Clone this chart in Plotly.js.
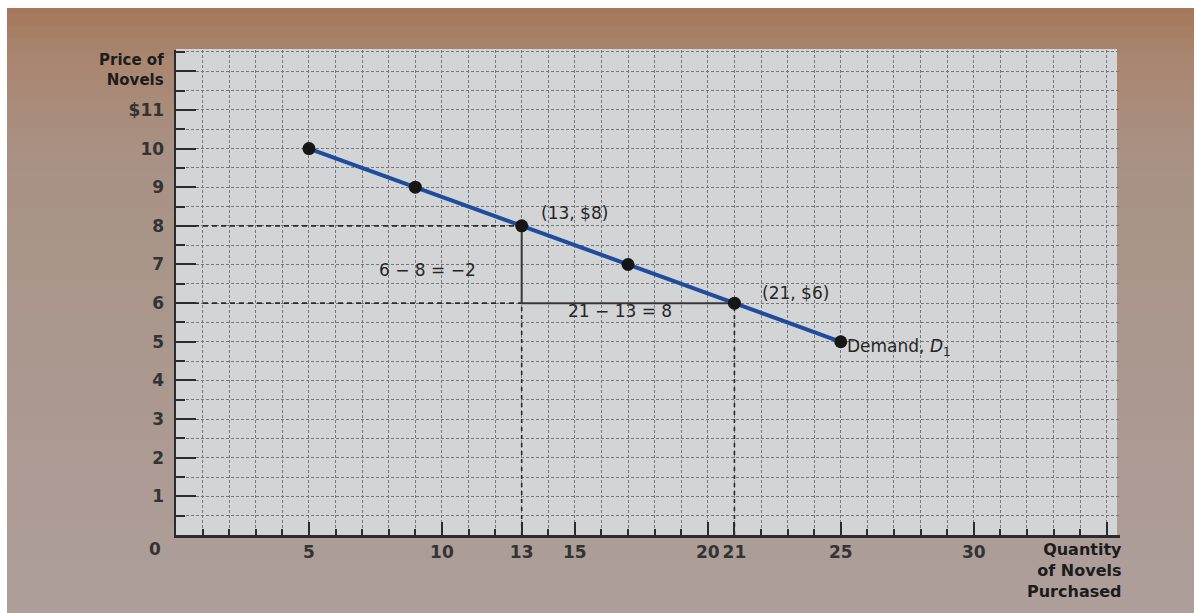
<!DOCTYPE html>
<html>
<head>
<meta charset="utf-8">
<script src="https://cdn.plot.ly/plotly-3.0.1.min.js"></script>
<style>html,body{margin:0;padding:0;background:#fff;}#chart{width:1194px;height:613px;}</style>
</head>
<body>
<div id="chart"></div>
<script>
// Demand schedule for novels
const quantities = [5, 9, 13, 17, 21, 25];
const prices = [10, 9, 8, 7, 6, 5];

// x tick labels
const xTickVals = [0, 5, 10, 13, 15, 20, 21, 25, 30, 35];
const xTickText = ['', '5', '10', '13', '15', '20', '21', '25', '30', ''];
// y tick labels
const yTickVals = [0, 1, 2, 3, 4, 5, 6, 7, 8, 9, 10, 11, 12];
const yTickText = ['', '1', '2', '3', '4', '5', '6', '7', '8', '9', '10', '$11', ''];

// the two highlighted points
const pointA = [13, 8];
const pointB = [21, 6];

const ink = '#2b2b2b';
const lineBlue = '#1f4c9c';

const traces = [
  {x: [0, pointA[0]], y: [pointA[1], pointA[1]], mode: 'lines', line: {color: ink, width: 1.6, dash: '5px,4px'}, hoverinfo: 'skip'},
  {x: [0, pointA[0]], y: [pointB[1], pointB[1]], mode: 'lines', line: {color: ink, width: 1.6, dash: '5px,4px'}, hoverinfo: 'skip'},
  {x: [pointA[0], pointA[0]], y: [0, pointB[1]], mode: 'lines', line: {color: ink, width: 1.6, dash: '4px,4px'}, hoverinfo: 'skip'},
  {x: [pointB[0], pointB[0]], y: [0, pointB[1]], mode: 'lines', line: {color: ink, width: 1.6, dash: '4px,4px'}, hoverinfo: 'skip'},
  {x: [pointA[0], pointA[0], pointB[0]], y: [pointA[1], pointB[1], pointB[1]], mode: 'lines', line: {color: '#3a3636', width: 2}, hoverinfo: 'skip'},
  {x: quantities, y: prices, mode: 'lines+markers', line: {color: lineBlue, width: 4},
   marker: {color: '#161616', size: 13}, hoverinfo: 'skip'}
];

function px2paperX(p) { return (p - 176) / 944; }
function px2paperY(q) { return (535 - q) / 485; }

// smooth photo-frame background (decoration)
function hex(c) { return [parseInt(c.slice(1,3),16), parseInt(c.slice(3,5),16), parseInt(c.slice(5,7),16)]; }
const stops = [[8, '#a4785a'], [60, '#a98670'], [160, '#a99285'], [330, '#aa978d'], [613, '#ae9f9b']];
const shapes = [];
for (let q = 8; q < 613; q += 6) {
  const mid = q + 3;
  let i = 0;
  while (i < stops.length - 2 && mid > stops[i + 1][0]) i++;
  const t = Math.min(1, Math.max(0, (mid - stops[i][0]) / (stops[i + 1][0] - stops[i][0])));
  const a = hex(stops[i][1]), b = hex(stops[i + 1][1]);
  const c = a.map((v, k) => Math.round(v + (b[k] - v) * t));
  shapes.push({
    type: 'rect', xref: 'paper', yref: 'paper', layer: 'below',
    x0: px2paperX(7), x1: px2paperX(1194), y0: px2paperY(Math.min(613, q + 6)), y1: px2paperY(q),
    fillcolor: 'rgb(' + c.join(',') + ')', line: {width: 0}
  });
}
shapes.push({
  type: 'rect', xref: 'paper', yref: 'paper', layer: 'below',
  x0: 0, x1: px2paperX(1117), y0: 0, y1: px2paperY(49),
  fillcolor: '#d2d4d6', line: {width: 0}
});

const tickFont = {family: 'DejaVu Sans', size: 17, color: '#333', weight: 'bold'};
const annFont = {family: 'DejaVu Sans', size: 17, color: '#262626'};
const boldFont = {family: 'DejaVu Sans', size: 15, color: '#1c1c1c', weight: 'bold'};
const gridCol = '#74777b';

const layout = {
  width: 1194, height: 613,
  margin: {l: 176, r: 74, t: 50, b: 78},
  paper_bgcolor: '#ffffff',
  plot_bgcolor: 'rgba(0,0,0,0)',
  showlegend: false,
  shapes: shapes,
  xaxis: {
    range: [0, 35.5], tickvals: xTickVals, ticktext: xTickText,
    ticks: 'inside', ticklen: 13, tickwidth: 2, tickcolor: ink,
    showline: true, linecolor: ink, linewidth: 2.5,
    showgrid: true, gridcolor: gridCol, gridwidth: 1, griddash: '3px,2px',
    zeroline: false, tickfont: tickFont,
    minor: {dtick: 1, ticks: 'inside', ticklen: 6, tickwidth: 2, tickcolor: ink,
            showgrid: true, gridcolor: gridCol, gridwidth: 1, griddash: '3px,2px'},
    fixedrange: true
  },
  yaxis: {
    range: [0, 12.55], tickvals: yTickVals, ticktext: yTickText,
    ticks: 'inside', ticklen: 20, tickwidth: 2, tickcolor: ink,
    showline: true, linecolor: ink, linewidth: 2.5,
    showgrid: true, gridcolor: gridCol, gridwidth: 1, griddash: '3px,2px',
    zeroline: false, tickfont: tickFont, ticklabelstandoff: 6,
    minor: {dtick: 0.5, ticks: 'inside', ticklen: 9, tickwidth: 2, tickcolor: ink,
            showgrid: true, gridcolor: gridCol, gridwidth: 1, griddash: '3px,2px'},
    fixedrange: true
  },
  annotations: [
    {text: '(13, $8)', x: 15.0, y: 8.34, xref: 'x', yref: 'y', xanchor: 'center', yanchor: 'middle', showarrow: false, font: annFont},
    {text: '(21, $6)', x: 23.3, y: 6.27, xref: 'x', yref: 'y', xanchor: 'center', yanchor: 'middle', showarrow: false, font: annFont},
    {text: '6 − 8 = −2', x: 9.45, y: 6.87, xref: 'x', yref: 'y', xanchor: 'center', yanchor: 'middle', showarrow: false, font: annFont},
    {text: '21 − 13 = 8', x: 16.7, y: 5.8, xref: 'x', yref: 'y', xanchor: 'center', yanchor: 'middle', showarrow: false, font: annFont},
    {text: 'Demand, <i>D</i><sub>1</sub>', x: 25.15, y: 4.85, xref: 'x', yref: 'y', xanchor: 'left', yanchor: 'middle',
     showarrow: false, font: annFont},
    {text: '0', x: px2paperX(155), y: px2paperY(549), xref: 'paper', yref: 'paper', xanchor: 'center', yanchor: 'middle',
     showarrow: false, font: tickFont},
    {text: 'Price of<br>Novels', x: px2paperX(166), y: px2paperY(70), xref: 'paper', yref: 'paper',
     xanchor: 'right', yanchor: 'middle', align: 'right', showarrow: false, font: boldFont},
    {text: 'Quantity<br>of Novels<br>Purchased', x: px2paperX(1124), y: px2paperY(538), xref: 'paper', yref: 'paper',
     xanchor: 'right', yanchor: 'top', align: 'right', showarrow: false,
     font: {family: 'DejaVu Sans', size: 16, color: '#1c1c1c', weight: 'bold'}}
  ]
};

Plotly.newPlot('chart', traces, layout, {staticPlot: true, displayModeBar: false});
</script>
</body>
</html>
